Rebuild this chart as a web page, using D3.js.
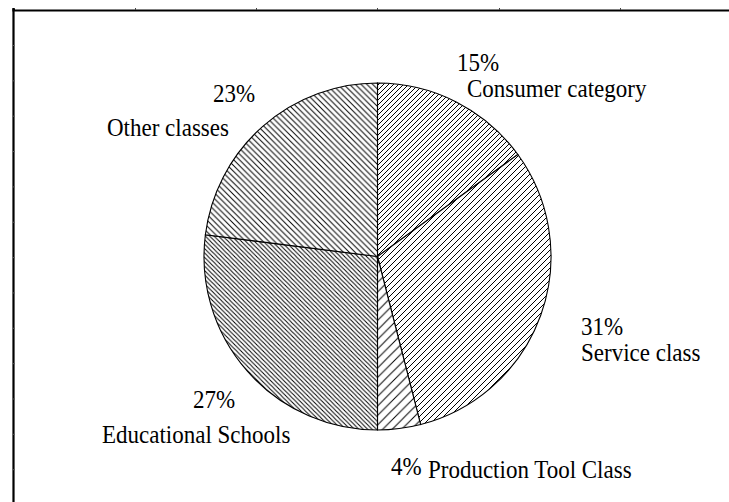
<!DOCTYPE html>
<html>
<head>
<meta charset="utf-8">
<script src="https://cdn.jsdelivr.net/npm/d3@7/dist/d3.min.js"></script>
<style>
  html, body { margin: 0; padding: 0; background: #fff; }
  svg { display: block; }
</style>
</head>
<body>
<svg id="chart" width="729" height="502"></svg>
<script>
// ---- data ----
const categories = ["Consumer category", "Service class", "Production Tool Class", "Educational Schools", "Other classes"];
const values = [15, 31, 4, 27, 23];
const percentLabels = ["15%", "31%", "4%", "27%", "23%"];
// hatch: direction and spacing (px, horizontal)
const hatchDir = ["/", "/", "/", "\\", "\\"];
const hatchGap = [5, 6, 9.5, 4.4, 5.8];
// label anchor positions (percent label, category label)
const pctPos = [[457, 71], [581, 335], [391, 475], [193, 408], [213, 102]];
const catPos = [[467, 97], [581, 361], [428, 478], [102, 443], [107, 136]];

const svg = d3.select("#chart");
const W = 729, H = 502;
const cx = 377.5, cy = 256.5, R = 173.5;
const FONT = "'Liberation Serif', 'Times New Roman', Times, serif";

// ---- hatch patterns ----
const defs = svg.append("defs");
values.forEach((v, i) => {
  const s = hatchGap[i];
  const pat = defs.append("pattern")
    .attr("id", "hatch" + i)
    .attr("patternUnits", "userSpaceOnUse")
    .attr("x", cx).attr("y", cy)
    .attr("width", s).attr("height", s);
  pat.append("rect").attr("width", s).attr("height", s).attr("fill", "#fff");
  const d = hatchDir[i] === "/"
    ? `M${-s},${2 * s} L${2 * s},${-s} M${-s},${s} L${s},${-s} M0,${2 * s} L${2 * s},0`
    : `M${-s},${-s} L${2 * s},${2 * s} M${-s},0 L${s},${2 * s} M0,${-s} L${2 * s},${s}`;
  pat.append("path").attr("d", d)
    .attr("stroke", "#000").attr("stroke-width", 1).attr("fill", "none");
});

// ---- frame with tiny ticks (axes without labels) ----
const frame = svg.append("g");
const topTicks = [135, 256, 377, 499, 620];
const leftTicks = d3.range(0, 13).map(k => 45 + k * 35.35);
frame.append("g").attr("transform", "translate(0,10)")
  .call(d3.axisTop(d3.scaleLinear().domain([13, W + 20]).range([13, W + 20]))
    .tickValues(topTicks).tickSize(2).tickFormat(""))
  .call(g => g.select(".domain").attr("stroke-width", 2.2).attr("stroke", "#000"))
  .call(g => g.selectAll(".tick line").attr("stroke", "#444"));
frame.append("g").attr("transform", "translate(13,0)")
  .call(d3.axisRight(d3.scaleLinear().domain([9, H + 10]).range([9, H + 10]))
    .tickValues(leftTicks).tickSize(2).tickFormat(""))
  .call(g => g.select(".domain").attr("stroke-width", 2.2).attr("stroke", "#000"))
  .call(g => g.selectAll(".tick line").attr("stroke", "#555"));

// ---- pie ----
const pie = d3.pie().sort(null).value(d => d).startAngle(0).endAngle(2 * Math.PI);
const arc = d3.arc().innerRadius(0).outerRadius(R);
const arcs = pie(values);
const g = svg.append("g").attr("transform", `translate(${cx},${cy})`);
g.selectAll("path.slice").data(arcs).enter().append("path")
  .attr("class", "slice")
  .attr("d", arc)
  .attr("fill", (d, i) => `url(#hatch${i})`)
  .attr("stroke", "#000")
  .attr("stroke-width", 1.1);

// ---- labels (slightly tall serif, as in the reference) ----
const lab = svg.append("g").attr("font-size", 23).attr("font-family", FONT).attr("fill", "#000");
const addText = (pos, str) => lab.append("text")
  .attr("transform", `translate(${pos[0]},${pos[1]}) scale(1,1.06)`)
  .text(str);
arcs.forEach((d, i) => {
  addText(pctPos[i], percentLabels[i]);
  addText(catPos[i], categories[i]);
});
</script>
</body>
</html>
